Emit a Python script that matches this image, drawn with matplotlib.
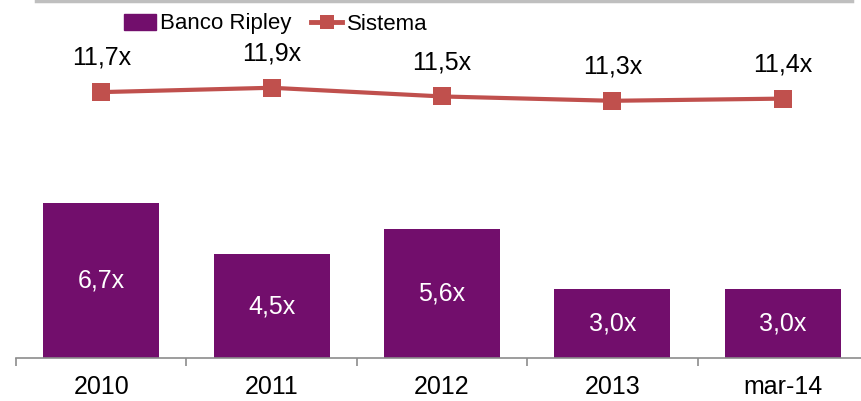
import matplotlib.pyplot as plt
from matplotlib.lines import Line2D
import numpy as np

plt.rcParams['font.family'] = ['Liberation Sans', 'DejaVu Sans']

categorias = ["2010", "2011", "2012", "2013", "mar-14"]
banco_ripley = [6.7, 4.5, 5.6, 3.0, 3.0]
sistema = [11.7, 11.9, 11.5, 11.3, 11.4]

color_barra = "#720E6C"
color_linea = "#C0504D"
color_eje = "#8C8C8C"

fig = plt.figure(figsize=(8.62, 4.01), dpi=100)
# ejes: x de 16 a 868 px, y de 358 px (abajo) a 0 px (arriba)
ax = fig.add_axes([16 / 862, (401 - 358) / 401, 852 / 862, 358 / 401])
x = np.arange(len(categorias))

ax.bar(x, banco_ripley, width=0.68, color=color_barra, zorder=2)
ax.set_xlim(-0.5, len(categorias) - 0.5)
ax.set_ylim(0, 358 / 23.1)

for xi, v in zip(x, banco_ripley):
    ax.text(xi, v / 2, f"{v:.1f}x".replace(".", ","), color="white",
            ha="center", va="center", fontsize=18)

ax2 = ax.twinx()
ax2.plot(x, sistema, color=color_linea, lw=3, marker="s", markersize=13,
         markeredgewidth=0, zorder=3)
ax2.set_ylim(-12 / 21.7, 346 / 21.7)
for xi, v in zip(x, sistema):
    ax2.annotate(f"{v:.1f}x".replace(".", ","), (xi, v), xytext=(0, 16),
                 textcoords="offset points", ha="center", va="bottom",
                 fontsize=18)

for a in (ax, ax2):
    for s in ["top", "right", "left"]:
        a.spines[s].set_visible(False)
    a.set_yticks([])
ax2.spines["bottom"].set_visible(False)
ax.spines["bottom"].set_color(color_eje)
ax.spines["bottom"].set_linewidth(1.2)

ax.set_xticks(x)
ax.set_xticklabels(categorias, fontsize=18)
ax.tick_params(axis="x", which="major", length=0, pad=12)
ax.set_xticks(np.arange(-0.5, len(categorias), 1), minor=True)
ax.tick_params(axis="x", which="minor", length=6, color=color_eje, width=1.2)

# leyenda
handles = [
    plt.Rectangle((0, 0), 1, 1, color=color_barra),
    Line2D([], [], color=color_linea, lw=3.5, marker="s", markersize=10,
           markeredgewidth=0),
]
fig.legend(handles, ["Banco Ripley", "Sistema"], loc="center",
           bbox_to_anchor=(276 / 862, 1 - 24 / 401), ncol=2, frameon=False,
           fontsize=16, handlelength=1.4, handleheight=0.7,
           handletextpad=0.2, columnspacing=0.9)

# borde superior del marco
fig.add_artist(Line2D([36 / 862, 852 / 862], [1 - 1 / 401, 1 - 1 / 401],
                      color="#BFBFBF", lw=2.5, transform=fig.transFigure))

fig.savefig("out.png", dpi=100)
